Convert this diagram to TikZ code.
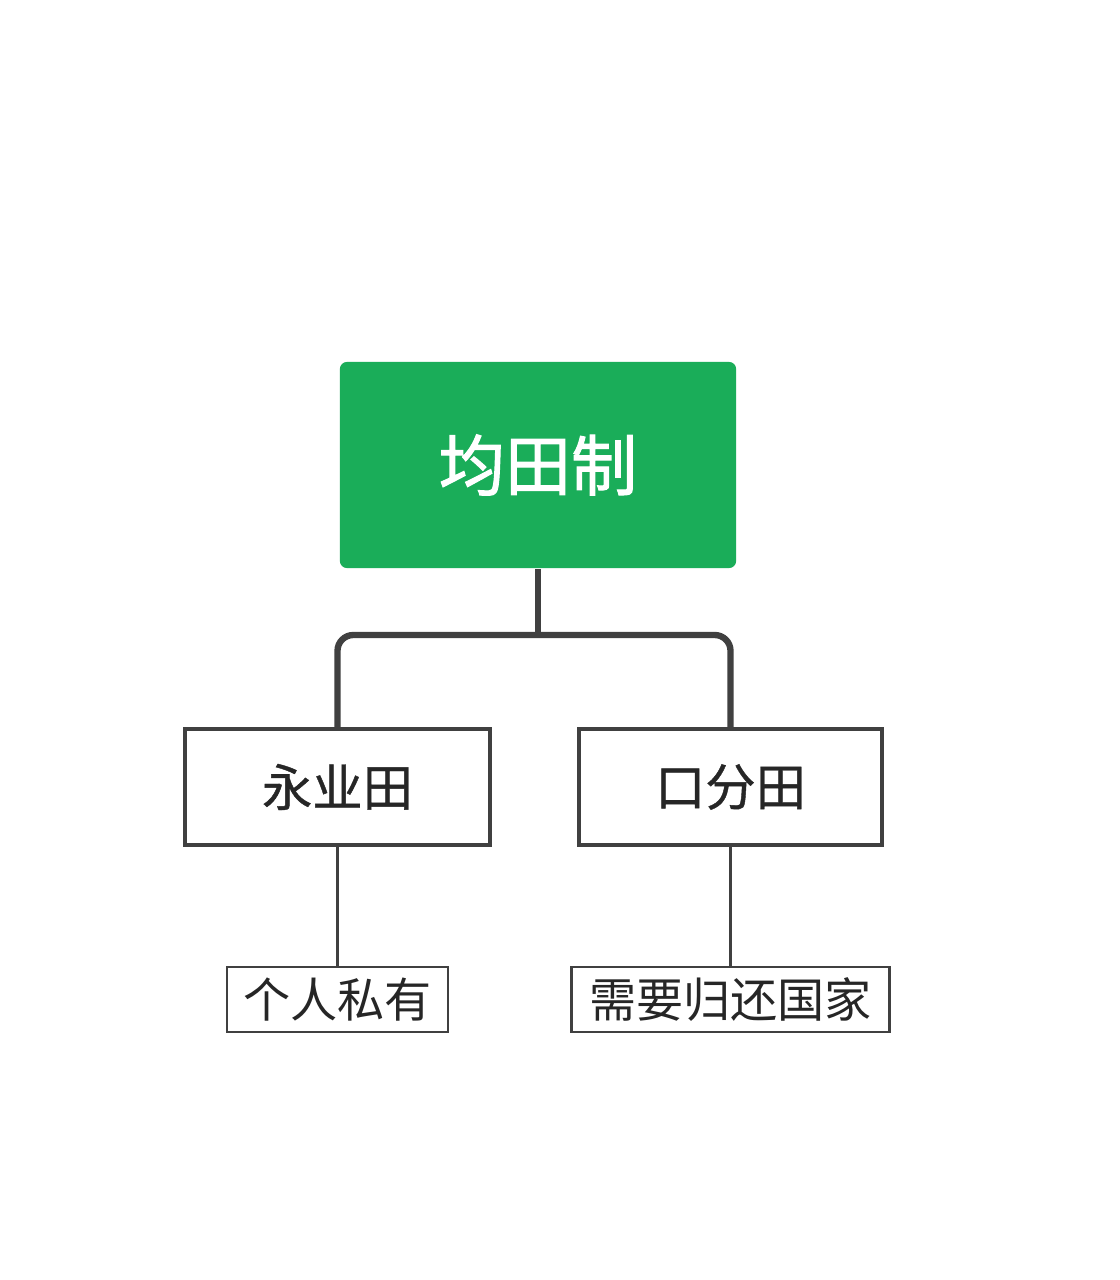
\documentclass[tikz,border=0pt]{standalone}
\usepackage{fontspec}
\newfontfamily\cjk{Noto Sans CJK SC}
\newfontfamily\cjktitle[FakeBold=1.6]{Noto Sans CJK SC}
\newfontfamily\cjkmid[FakeBold=0.8]{Noto Sans CJK SC}
\definecolor{topgreen}{RGB}{26,173,89}
\definecolor{linegray}{RGB}{64,64,64}
\begin{document}
\begin{tikzpicture}[x=0.01cm,y=-0.01cm,
  topbox/.style={fill=topgreen,draw=none,rounded corners=2pt,minimum width=3.96cm,minimum height=2.06cm,inner sep=0pt,text=white,font=\cjktitle\fontsize{18.8pt}{20pt}\selectfont},
  midbox/.style={draw=linegray,line width=1.2pt,fill=white,minimum height=1.16cm,inner sep=0pt,text=black!85,font=\cjkmid\fontsize{14.3pt}{16pt}\selectfont},
  leafbox/.style={draw=linegray,line width=0.7pt,fill=white,minimum height=0.65cm,inner sep=0pt,text=black!85,font=\cjk\fontsize{13.4pt}{15pt}\selectfont},
  thick connector/.style={draw=linegray,line width=1.8pt,rounded corners=4.5pt},
  thin connector/.style={draw=linegray,line width=0.6pt}]
\useasboundingbox (0,0) rectangle (1119,1280);
\fill[white] (0,0) rectangle (1119,1280);
\node[topbox] (top) at (538,465) {均田制};
\coordinate (j) at (538,635);
\node[midbox,minimum width=3.05cm] (a) at (337.5,787) {永业田};
\node[midbox,minimum width=3.03cm] (b) at (730.5,787) {口分田};
\node[leafbox,minimum width=2.21cm] (c) at (337.5,999.5) {个人私有};
\node[leafbox,minimum width=3.18cm] (d) at (730.5,999.5) {需要归还国家};
\draw[thick connector] (top.south) -- (j);
\draw[thick connector] (a.north) |- (j) -| (b.north);
\draw[thin connector] (a.south) -- (c.north);
\draw[thin connector] (b.south) -- (d.north);
\end{tikzpicture}
\end{document}
